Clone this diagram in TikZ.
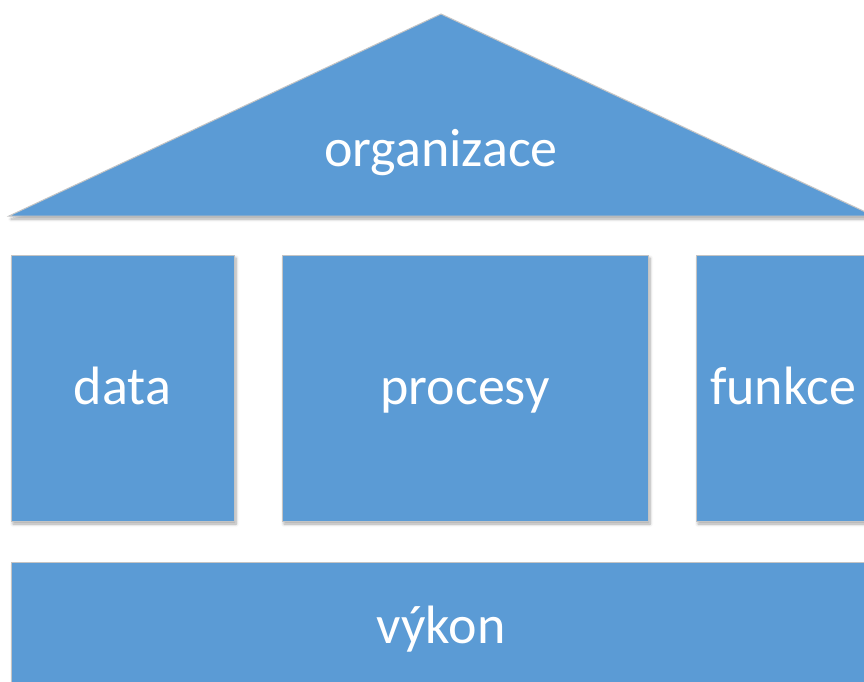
\documentclass[tikz,border=0pt]{standalone}
\usepackage{fontspec}
\setmainfont{Carlito}
\usetikzlibrary{shadows.blur}
\definecolor{blockblue}{HTML}{5B9BD5}
\definecolor{edgegrey}{HTML}{C4C4C4}
\tikzset{
  x=1pt, y=-1pt,
  block/.style={fill=blockblue, draw=edgegrey, line width=1pt,
    blur shadow={shadow xshift=2pt, shadow yshift=-3pt, shadow blur steps=6,
      shadow blur radius=3pt, shadow opacity=35}},
  box/.style={block, rectangle, inner sep=0pt},
  label/.style={text=white, font=\fontsize{54}{60}\selectfont,
    text height=36pt, text depth=4pt}
}
\begin{document}
\begin{tikzpicture}
\useasboundingbox (0,0) rectangle (864,682);
\begin{scope}
\clip (0,0) rectangle (864,682);
% roof
\path[block] (9,216) -- (441,14) -- (874,216) -- cycle;
\node[label] (organizace) at (441,150) {organizace};
% pillars
\node[box, minimum width=223pt, minimum height=266pt, label] (data) at (122.5,388) {data};
\node[box, minimum width=366pt, minimum height=266pt, label] (procesy) at (465,388) {procesy};
\node[box, minimum width=180pt, minimum height=266pt, label, text width=180pt, align=left] (funkce) at (786,388) {\hspace*{14pt}funkce};
% foundation
\node[box, minimum width=870pt, minimum height=130pt] (base) at (446,627.5) {};
\node[label] (vykon) at (441,627) {výkon};
\end{scope}
\end{tikzpicture}
\end{document}
